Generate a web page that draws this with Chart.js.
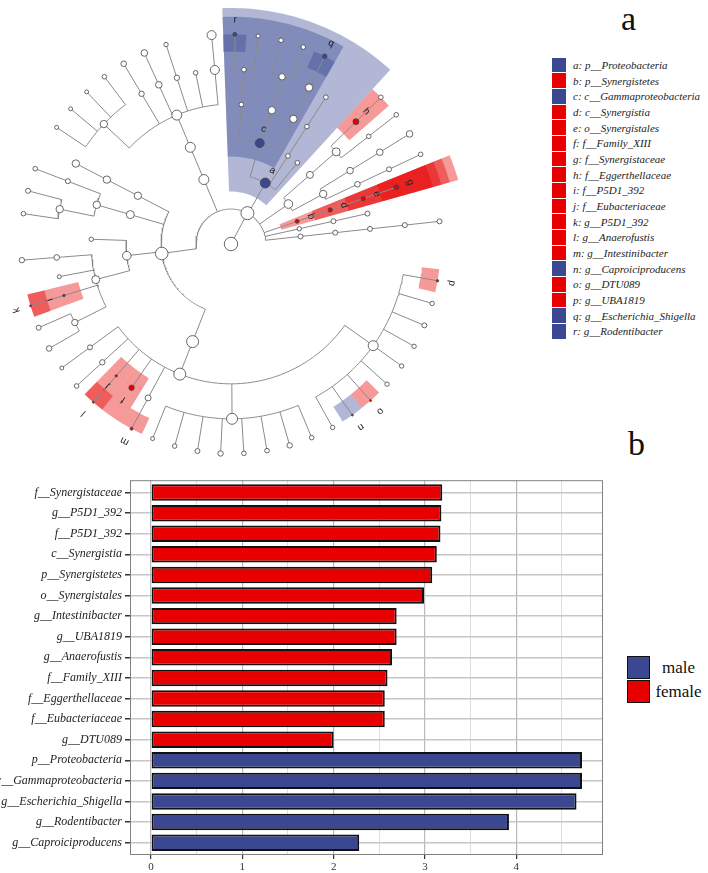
<!DOCTYPE html>
<html>
<head>
<meta charset="utf-8">
<script src="https://cdn.jsdelivr.net/npm/chart.js@4.4.1/dist/chart.umd.min.js"></script>
<style>
  body { margin: 0; width: 708px; height: 873px; position: relative; overflow: hidden; background: #fff; font-family: 'Liberation Serif', serif; }
  canvas { position: absolute; }
  #bars { left: 0; top: 470px; }
  #clado { left: -29px; top: -16px; }
  .tag { position: absolute; font-size: 34px; line-height: 34px; color: #111; }
  #cladeLegend { position: absolute; left: 552px; top: 57.3px; font-family: 'Liberation Serif', serif; font-style: italic; font-size: 11px; color: #222; }
  #cladeLegend .row { display: flex; align-items: center; height: 15.67px; white-space: nowrap; }
  #cladeLegend .box { width: 14px; height: 14.7px; margin-right: 7px; }
  #groupLegend { position: absolute; left: 627px; top: 656px; font-size: 17px; color: #111; }
  #groupLegend .row { display: flex; align-items: center; height: 24px; }
  #groupLegend .box { width: 21px; height: 21px; border: 1.5px solid #111; margin-top: -1.5px; }
  #groupLegend .lab { width: 57px; text-align: center; }
</style>
</head>
<body>
<canvas id="bars" width="620" height="403"></canvas>
<canvas id="clado" width="520" height="520"></canvas>
<div class="tag" style="left:621px;top:1.5px">a</div>
<div class="tag" style="left:628px;top:426.5px">b</div>
<div id="cladeLegend"></div>
<div id="groupLegend"></div>
<script>
// cladogram legend
var cladeKeys = ['a','b','c','d','e','f','g','h','i','j','k','l','m','n','o','p','q','r']
var cladeTaxa = ['p__Proteobacteria','p__Synergistetes','c__Gammaproteobacteria','c__Synergistia','o__Synergistales',
  'f__Family_XIII','f__Synergistaceae','f__Eggerthellaceae','f__P5D1_392','f__Eubacteriaceae','g__P5D1_392',
  'g__Anaerofustis','g__Intestinibacter','g__Caproiciproducens','g__DTU089','g__UBA1819','g__Escherichia_Shigella','g__Rodentibacter']
var cladeGroup = ['male','female','male','female','female','female','female','female','female','female','female',
  'female','female','male','female','female','male','male']

// LDA bar chart
var barTaxa = ['f__Synergistaceae','g__P5D1_392','f__P5D1_392','c__Synergistia','p__Synergistetes','o__Synergistales',
  'g__Intestinibacter','g__UBA1819','g__Anaerofustis','f__Family_XIII','f__Eggerthellaceae','f__Eubacteriaceae','g__DTU089',
  'p__Proteobacteria','c__Gammaproteobacteria','g__Escherichia_Shigella','g__Rodentibacter','g__Caproiciproducens']
var barLda = [3.19, 3.18, 3.17, 3.13, 3.08, 2.99, 2.69, 2.69, 2.64, 2.59, 2.56, 2.56, 2.00, 4.72, 4.72, 4.66, 3.92, 2.28]
var barGroup = ['female','female','female','female','female','female','female','female','female','female','female','female','female',
  'male','male','male','male','male']
var ldaTicks = [0, 0.5, 1, 1.5, 2, 2.5, 3, 3.5, 4, 4.5]
var groupNames = ['male', 'female']

// taxonomy tree, leaves listed counter-clockwise; t(abundance, key, children)
function t(s, k, kids) { return { s: s, k: k || '', kids: kids || [] } }
function leaves(list) { return list.map(function (s) { return t(s) }) }
var tree = t(6.7, '', [t(6.5, '', [
  t(2.5, '', [t(2.5, '', [t(2.5, '', [t(2.5, '', [t(2.5)])])])]),
  t(2.2, '', [t(2.5, '', [t(2.5)])]),
  t(2, 'b', [t(2.2, 'd', [t(2.2, 'e', [t(2.5, 'g')])])]),
  t(4.3, '', [
    t(3.7, '', [t(2.8, '', [t(2.5, '', [t(2.3)])]), t(3.3, '', [t(3.3, '', [t(3.3)])])]),
    t(3.5, '', [t(4, '', [t(2.3, '', [t(2.3)]), t(3, 'h', [t(2.3)])])])
  ]),
  t(5, 'a', [
    t(2.3),
    t(2.3, '', [t(2.3, '', [t(2.3)])]),
    t(4.5, 'c', [
      t(3.7, '', [t(3.7, '', [t(2.3, 'q')])]),
      t(3.7, '', [t(3.2, '', leaves([2.3, 2.3]))]),
      t(2.3, '', [t(2.3, '', [t(2), t(2, 'r')])])
    ])
  ]),
  t(5, '', [t(5, '', [t(5, '', [
    t(4.5, '', [t(4.5)]), t(2.3), t(2.7, '', [t(2.2)]), t(3.3, '', [t(3.3)]), t(2.7, '', [t(2.8)]),
    t(3.7, '', leaves([2.3, 2, 2, 2]))
  ])])]),
  t(6.3, '', [
    t(3.7, '', [t(3.7, '', [t(3.7)])]),
    t(4, '', [t(3.7, '', [t(2.5, '', [t(2.3)]), t(3.7, '', leaves([2.5, 2.3]))])]),
    t(4.3, '', [t(2.2), t(4, '', [t(2.8, '', [t(2.7)]), t(2), t(1.2, 'i', [t(1, 'k')]), t(3.2, '', leaves([2.5, 2.8]))])]),
    t(6, '', [t(6, '', [
      t(2.5, '', [t(2)]), t(2.7, '', [t(2.3)]), t(1.2, 'j', [t(1, 'l')]), t(2.7, 'f'), t(3, '', [t(1.5, 'm')]),
      t(5.5, '', leaves([2, 2.3, 2.5, 2.7, 2.3, 2.3, 2.7, 2.3])),
      t(5, '', [t(2.2), t(1, 'n'), t(1, 'o')].concat(leaves([2.2, 2.2, 2.2, 2.5, 2.2]), [t(1.2, 'p')]))
    ])])
  ])
])])

var solid = { male: '#3b4891', female: '#e80000' }
var shade = { male: 'rgba(59,74,148,0.4)', female: 'rgba(230,0,0,0.4)' }
function keyGroup(k) { return cladeGroup[cladeKeys.indexOf(k)] }

// ---- legends (html) ----
var cl = document.getElementById('cladeLegend')
cladeKeys.forEach(function (k, i) {
  cl.innerHTML += '<div class="row"><div class="box" style="background:' + solid[cladeGroup[i]] + '"></div>' + k + ': ' + cladeTaxa[i] + '</div>'
})
var gl = document.getElementById('groupLegend')
groupNames.forEach(function (g) {
  gl.innerHTML += '<div class="row"><div class="box" style="background:' + solid[g] + '"></div><div class="lab">' + g + '</div></div>'
})

// ---- cladogram layout ----
var ringGap = 36, firstLeaf = 6.2, lastLeaf = 349.9
var nLeaves = 0
;(function count(n) { if (!n.kids.length) nLeaves++; n.kids.forEach(count) })(tree)
var step = (lastLeaf - firstLeaf) / (nLeaves - 1)
var leafIdx = 0, all = []
function place(n, depth) {
  n.depth = depth
  n.r = depth * ringGap
  all.push(n)
  if (!n.kids.length) {
    n.ang = firstLeaf + step * leafIdx++
    n.lo = n.hi = n.ang
  } else {
    n.kids.forEach(function (k) { place(k, depth + 1) })
    n.ang = n.kids.reduce(function (s, k) { return s + k.ang }, 0) / n.kids.length
    n.lo = n.kids[0].lo
    n.hi = n.kids[n.kids.length - 1].hi
  }
}
place(tree, 0)

function rad(d) { return d * Math.PI / 180 }
function P(r, a) { return { x: r * Math.cos(rad(a)), y: r * Math.sin(rad(a)) } }
var GAP = { x: NaN, y: NaN }
function arc(r, a0, a1) {
  var n = Math.max(1, Math.ceil(Math.abs(a1 - a0))), out = []
  for (var i = 0; i <= n; i++) out.push(P(r, a0 + (a1 - a0) * i / n))
  return out
}

var branch = []
all.forEach(function (n) {
  if (!n.kids.length) return
  if (n.kids.length > 1) branch = branch.concat(arc(n.r, n.kids[0].ang, n.kids[n.kids.length - 1].ang), [GAP])
  n.kids.forEach(function (k) { branch.push(P(n.r, k.ang), P(k.r, k.ang), GAP) })
})

var marked = all.filter(function (n) { return n.k })
var leafR = 6 * ringGap
var sectors = marked.map(function (n) {
  var a0 = n.lo - step / 2, a1 = n.hi + step / 2
  var inner = n.r - ringGap / 2
  var outer = Math.max(leafR, leafR + 9 * (5 - n.depth))
  return {
    type: 'line', order: 3,
    data: arc(inner, a0, a1).concat(arc(outer, a1, a0)),
    fill: 'shape', backgroundColor: shade[keyGroup(n.k)],
    borderColor: 'rgba(0,0,0,0)', borderWidth: 0, pointRadius: 0, tension: 0
  }
})

var letters = {
  id: 'letters',
  afterDatasetsDraw: function (chart) {
    var ctx = chart.ctx, sx = chart.scales.x, sy = chart.scales.y
    ctx.save()
    ctx.font = '10px "Liberation Sans"'
    ctx.fillStyle = '#222'
    ctx.textAlign = 'center'
    ctx.textBaseline = 'middle'
    marked.forEach(function (n) {
      var p = P(n.r + 15, n.ang)
      ctx.save()
      ctx.translate(sx.getPixelForValue(p.x), sy.getPixelForValue(p.y))
      ctx.rotate(rad(90 - n.ang))
      ctx.fillText(n.k, 0, 0)
      ctx.restore()
    })
    ctx.restore()
  }
}

new Chart(document.getElementById('clado'), {
  type: 'scatter',
  data: {
    datasets: sectors.concat([
      { type: 'line', order: 2, data: branch, borderColor: '#8a8a8a', borderWidth: 1, pointRadius: 0, spanGaps: false, fill: false, tension: 0 },
      {
        type: 'scatter', order: 1,
        data: all.map(function (n) { return P(n.r, n.ang) }),
        pointRadius: all.map(function (n) { return n.s }),
        pointBackgroundColor: all.map(function (n) { return n.k ? solid[keyGroup(n.k)] : '#fff' }),
        pointBorderColor: '#444', pointBorderWidth: 0.8
      }
    ])
  },
  options: {
    responsive: false, animation: false, events: [],
    layout: { padding: 0 },
    scales: {
      x: { type: 'linear', min: -260, max: 260, display: false },
      y: { type: 'linear', min: -260, max: 260, display: false }
    },
    plugins: { legend: { display: false }, tooltip: { enabled: false } }
  },
  plugins: [letters]
})

// ---- LDA bars ----
var frame = {
  id: 'frame',
  afterDatasetsDraw: function (chart) {
    var a = chart.chartArea, c = chart.ctx
    c.save()
    c.strokeStyle = '#808080'
    c.lineWidth = 1
    c.strokeRect(a.left + 0.5, a.top + 0.5, a.right - a.left - 1, a.bottom - a.top - 1)
    c.restore()
  }
}
function isInt(v) { return Math.abs(v - Math.round(v)) < 1e-9 }

new Chart(document.getElementById('bars'), {
  type: 'bar',
  data: {
    datasets: [{
      data: barLda.map(function (v, i) { return { x: v, y: i } }),
      backgroundColor: barGroup.map(function (g) { return solid[g] }),
      borderColor: '#111', borderWidth: 2, borderSkipped: false,
      barPercentage: 0.8, categoryPercentage: 1
    }]
  },
  options: {
    indexAxis: 'y', responsive: false, animation: false, events: [],
    layout: { padding: { top: 10, right: 17, bottom: 0, left: 0 } },
    scales: {
      x: {
        type: 'linear', min: -0.23, max: 4.95,
        afterBuildTicks: function (s) { s.ticks = ldaTicks.map(function (v) { return { value: v } }) },
        afterFit: function (s) { s.height = 18 },
        ticks: { autoSkip: false, maxRotation: 0, padding: 2, color: '#333', font: { family: 'Liberation Serif', size: 11 },
          callback: function (v) { return isInt(v) ? v : '' } },
        grid: {
          color: function (c) { return isInt(c.tick.value) ? '#b9b9b9' : '#dedede' },
          lineWidth: function (c) { return isInt(c.tick.value) ? 1.2 : 1 },
          tickLength: 4,
          tickColor: function (c) { return isInt(c.tick.value) ? '#333' : 'rgba(0,0,0,0)' }
        },
        border: { display: false }
      },
      y: {
        type: 'linear', reverse: true, min: -0.6, max: 17.6, offset: false,
        afterBuildTicks: function (s) { s.ticks = barTaxa.map(function (_, i) { return { value: i } }) },
        afterFit: function (s) { s.width = 130 },
        ticks: { autoSkip: false, padding: 3, color: '#222', font: { family: 'Liberation Serif', style: 'italic', size: 12 },
          callback: function (v) { return barTaxa[v] } },
        grid: { offset: false, color: '#c6c6c6', lineWidth: 1.5, tickLength: 5, tickColor: '#333' },
        border: { display: false }
      }
    },
    plugins: { legend: { display: false }, tooltip: { enabled: false } }
  },
  plugins: [frame]
})
</script>
</body>
</html>
